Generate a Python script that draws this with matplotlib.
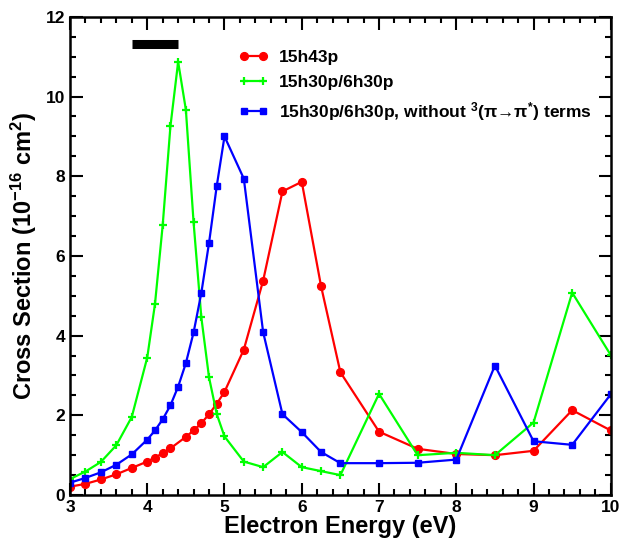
import matplotlib
matplotlib.use("Agg")
import matplotlib.pyplot as plt
from matplotlib.ticker import MultipleLocator

plt.rcParams['font.family'] = ['Liberation Sans', 'DejaVu Sans']
plt.rcParams['font.weight'] = 'bold'
plt.rcParams['mathtext.default'] = 'regular'

# 15h43p
red_x = [3.0, 3.2, 3.4, 3.6, 3.8, 4.0, 4.1, 4.2, 4.3, 4.5, 4.6, 4.7, 4.8, 4.9, 5.0,
         5.25, 5.5, 5.75, 6.0, 6.25, 6.5, 7.0, 7.5, 8.0, 8.5, 9.0, 9.5, 10.0]
red_y = [0.21, 0.28, 0.39, 0.52, 0.68, 0.84, 0.94, 1.05, 1.17, 1.46, 1.62, 1.80, 2.03, 2.29, 2.59,
         3.65, 5.38, 7.62, 7.86, 5.24, 3.08, 1.59, 1.16, 1.03, 1.00, 1.11, 2.13, 1.62]

# 15h30p/6h30p
green_x = [3.0, 3.2, 3.4, 3.6, 3.8, 4.0, 4.1, 4.2, 4.3, 4.4, 4.5, 4.6, 4.7, 4.8, 4.9, 5.0,
           5.25, 5.5, 5.75, 6.0, 6.25, 6.5, 7.0, 7.5, 8.0, 8.5, 9.0, 9.5, 10.0]
green_y = [0.40, 0.59, 0.83, 1.25, 1.96, 3.45, 4.79, 6.77, 9.25, 10.87, 9.67, 6.84, 4.46, 2.95, 2.03, 1.47,
           0.84, 0.70, 1.08, 0.70, 0.60, 0.50, 2.54, 1.00, 1.06, 1.00, 1.82, 5.08, 3.51]

# 15h30p/6h30p, without 3(pi->pi*) terms
blue_x = [3.0, 3.2, 3.4, 3.6, 3.8, 4.0, 4.1, 4.2, 4.3, 4.4, 4.5, 4.6, 4.7, 4.8, 4.9, 5.0,
          5.25, 5.5, 5.75, 6.0, 6.25, 6.5, 7.0, 7.5, 8.0, 8.5, 9.0, 9.5, 10.0]
blue_y = [0.31, 0.43, 0.57, 0.76, 1.02, 1.39, 1.62, 1.90, 2.25, 2.72, 3.31, 4.08, 5.07, 6.33, 7.76, 9.00,
          7.94, 4.09, 2.03, 1.58, 1.08, 0.80, 0.80, 0.81, 0.89, 3.25, 1.35, 1.26, 2.53]

bar_x = [3.8, 4.4]
bar_y = [11.32, 11.32]

fig = plt.figure(figsize=(6.22, 5.44), dpi=100)
ax = fig.add_axes([0.1125, 0.09, 0.8695, 0.879])

ax.plot(red_x, red_y, color='#ff0000', lw=1.6, marker='o', ms=5.6, label='15h43p')
ax.plot(green_x, green_y, color='#00ff00', lw=1.6, marker='+', ms=6, mew=1.6, label='15h30p/6h30p')
ax.plot(blue_x, blue_y, color='#0000ff', lw=1.6, marker='s', ms=4.2,
        label=r'15h30p/6h30p, without $^{3}$(π→π$^{*}$) terms')
ax.plot(bar_x, bar_y, color='black', lw=6.5, solid_capstyle='butt')

ax.set_xlim(3, 10)
ax.set_ylim(0, 12)
ax.xaxis.set_major_locator(MultipleLocator(1))
ax.xaxis.set_minor_locator(MultipleLocator(0.2))
ax.yaxis.set_major_locator(MultipleLocator(2))
ax.yaxis.set_minor_locator(MultipleLocator(0.5))
ax.tick_params(which='both', direction='in', top=True, right=True, width=1.5)
ax.tick_params(which='major', length=9, labelsize=12.5)
ax.tick_params(which='minor', length=4.5)
for s in ax.spines.values():
    s.set_linewidth(1.8)

ax.set_xlabel('Electron Energy (eV)', fontsize=17, fontweight='bold', labelpad=0)
ax.set_ylabel(r'Cross Section (10$^{-16}$ cm$^{2}$)', fontsize=17, fontweight='bold', labelpad=5)

leg = ax.legend(loc='upper left', bbox_to_anchor=(0.312, 0.93), frameon=False,
                fontsize=12.5, numpoints=2, handlelength=1.7, handletextpad=0.6,
                labelspacing=0.55, borderpad=0, borderaxespad=0)

fig.savefig('out.png', dpi=100)
